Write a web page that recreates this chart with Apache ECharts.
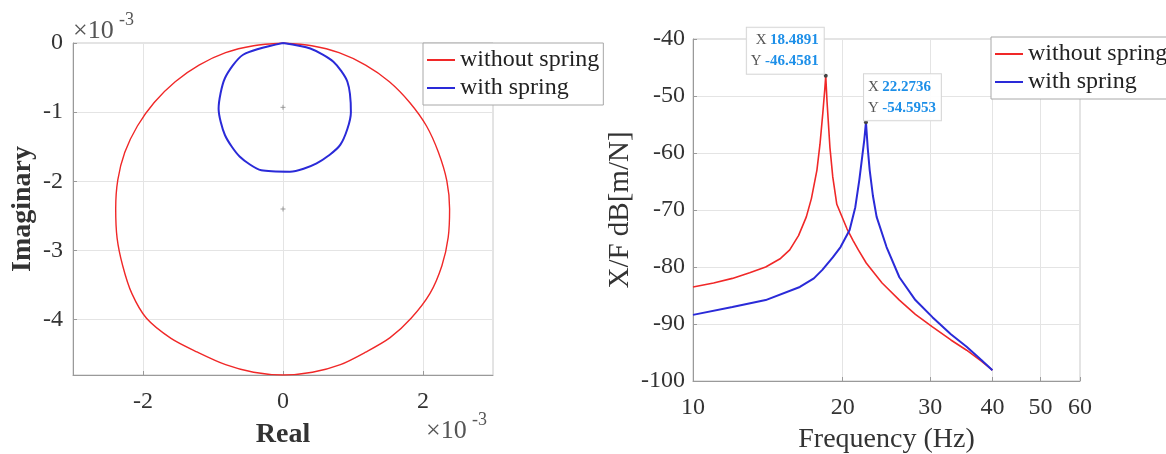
<!DOCTYPE html>
<html>
<head>
<meta charset="utf-8">
<script src="https://cdn.jsdelivr.net/npm/echarts@6/dist/echarts.min.js"></script>
<style>
  html, body { margin: 0; padding: 0; background: #fff; }
  #chart { width: 1166px; height: 454px; }
</style>
</head>
<body>
<div id="chart"></div>
<script>
const seriesNames = ['without spring', 'with spring'];

// Nyquist plot, real / imaginary in units of 1e-3
const nyqWithout = [
  [0.0, 0.0], [-0.42, -0.04], [-0.82, -0.14], [-1.2, -0.32], [-1.54, -0.56],
  [-1.84, -0.86], [-2.08, -1.2], [-2.26, -1.58], [-2.36, -1.98], [-2.39, -2.4],
  [-2.37, -2.82], [-2.29, -3.22], [-2.16, -3.62], [-1.95, -3.98], [-1.6, -4.27],
  [-1.22, -4.47], [-0.82, -4.65], [-0.42, -4.76], [0.0, -4.8], [0.42, -4.76],
  [0.82, -4.65], [1.18, -4.47], [1.53, -4.26], [1.83, -3.98], [2.1, -3.62],
  [2.27, -3.22], [2.36, -2.81], [2.38, -2.4], [2.34, -1.99], [2.22, -1.58],
  [2.05, -1.2], [1.81, -0.86], [1.52, -0.56], [1.18, -0.32], [0.8, -0.14],
  [0.41, -0.04], [0.0, 0.0]
];
const nyqWith = [
  [0.0, 0.0], [-0.57, -0.17], [-0.83, -0.51], [-0.92, -0.95], [-0.83, -1.33],
  [-0.62, -1.64], [-0.31, -1.84], [0.1, -1.86], [0.48, -1.74], [0.82, -1.47],
  [0.97, -1.0], [0.92, -0.56], [0.72, -0.27], [0.39, -0.08], [0.0, 0.0]
];
const nyqCentres = [[0, -2.4], [0, -0.93]];
const realTicks = [-2, 0, 2];
const imagTicks = [-4, -3, -2, -1, 0];

// receptance magnitude, frequency (Hz) vs dB
const frfWithout = [
  [10, -83.5], [11, -82.8], [12, -82.0], [13, -81.0], [14, -80.0], [15, -78.5],
  [15.65, -77.0], [16.3, -74.5], [16.9, -71.2], [17.3, -68.0], [17.75, -63.0],
  [18.0, -58.5], [18.24, -53.0], [18.4, -49.0], [18.4891, -46.4581], [18.6, -51.0],
  [18.85, -59.0], [19.1, -64.2], [19.46, -69.0], [20.0, -71.5], [20.4, -73.3],
  [21.0, -75.4], [21.5, -77.0], [22.3, -79.3], [24, -82.8], [26, -85.8], [28, -88.3],
  [30.3, -90.5], [33, -92.8], [35.5, -94.6], [38, -96.5], [40, -98.1]
];
const frfWith = [
  [10, -88.4], [12, -87.0], [14, -85.8], [16.4, -83.5], [17.5, -82.0],
  [18.2, -80.5], [19.1, -78.3], [19.8, -76.5], [20.65, -73.5], [21.2, -69.5],
  [21.6, -64.7], [21.9, -60.5], [22.1, -57.7], [22.2736, -54.5953], [22.45, -59.0],
  [22.66, -63.0], [23.0, -67.5], [23.4, -71.2], [24.5, -76.5], [26, -81.8],
  [28, -85.8], [30.3, -88.8], [33, -91.8], [35.5, -94.0], [38, -96.3], [40, -98.1]
];
const freqTicks = [10, 20, 30, 40, 50, 60];
const peakWithout = [18.4891, -46.4581];
const peakWith = [22.2736, -54.5953];

const RED = '#f02828';
const BLUE = '#2a2ad8';
const FONT = '"Liberation Serif", "Times New Roman", serif';
const AXIS = '#9a9a9a';
const GRID = '#e4e4e4';
const TXT = '#333';

const chart = echarts.init(document.getElementById('chart'));

const axisCommon = (ticks, margin) => ({
  axisLine: { show: true, onZero: false, lineStyle: { color: AXIS } },
  axisTick: { show: true, inside: true, length: 4, customValues: ticks, lineStyle: { color: AXIS } },
  axisLabel: { customValues: ticks, fontFamily: FONT, fontSize: 24, color: TXT, margin: margin },
  splitLine: { show: true, lineStyle: { color: GRID } }
});

const tipLabel = (p, align) => ({
  show: true,
  position: [0, 0],
  align: align,
  verticalAlign: 'bottom',
  formatter: `{k|X} {v|${p[0]}}\n{k|Y} {v|${p[1]}}`,
  backgroundColor: 'rgba(255,255,255,0.92)',
  borderColor: '#d6d6d6',
  borderWidth: 1,
  padding: [2, 5, 2, 4],
  rich: {
    k: { fontFamily: FONT, fontSize: 15, color: '#555', lineHeight: 21 },
    v: { fontFamily: FONT, fontSize: 15, color: '#1d8fe8', fontWeight: 'bold', lineHeight: 21 }
  }
});

const legendCommon = {
  orient: 'vertical',
  data: seriesNames,
  icon: 'rect',
  itemWidth: 28,
  itemHeight: 2,
  itemGap: 4,
  selectedMode: false,
  backgroundColor: '#fff',
  borderColor: '#a8a8a8',
  borderWidth: 1,
  padding: [5, 4, 5, 4],
  textStyle: { fontFamily: FONT, fontSize: 24, color: '#222', lineHeight: 24 }
};

chart.setOption({
  animation: false,
  backgroundColor: '#fff',
  grid: [
    {
      left: 73, top: 43, width: 420, height: 332, outerBoundsMode: 'none',
      show: true, borderColor: '#c8c8c8', backgroundColor: 'transparent'
    },
    {
      left: 693, top: 39, width: 387, height: 342, outerBoundsMode: 'none',
      show: true, borderColor: '#c8c8c8', backgroundColor: 'transparent'
    }
  ],
  xAxis: [
    {
      type: 'value', gridIndex: 0, min: -3, max: 3, ...axisCommon(realTicks, 15),
      name: 'Real', nameLocation: 'middle', nameGap: 46,
      nameTextStyle: { fontFamily: FONT, fontSize: 28, fontWeight: 'bold', color: TXT }
    },
    {
      type: 'log', logBase: 10, gridIndex: 1, min: 10, max: 60, ...axisCommon(freqTicks, 15),
      name: 'Frequency (Hz)', nameLocation: 'middle', nameGap: 45,
      nameTextStyle: { fontFamily: FONT, fontSize: 28, color: TXT }
    }
  ],
  yAxis: [
    {
      type: 'value', gridIndex: 0, min: -4.8, max: 0, ...axisCommon(imagTicks, 10),
      name: 'Imaginary', nameLocation: 'middle', nameGap: 36,
      nameTextStyle: { fontFamily: FONT, fontSize: 28, fontWeight: 'bold', color: TXT }
    },
    {
      type: 'value', gridIndex: 1, min: -100, max: -40, interval: 10, ...axisCommon(null, 8),
      name: 'X/F dB[m/N]', nameLocation: 'middle', nameGap: 58,
      nameTextStyle: { fontFamily: FONT, fontSize: 29, color: TXT }
    }
  ],
  legend: [
    { ...legendCommon, left: 423, top: 43 },
    { ...legendCommon, left: 991, top: 37 }
  ],
  graphic: [
    { type: 'text', left: 73, top: 18, style: { text: '×10', fontFamily: FONT, fontSize: 26, fill: '#555' } },
    { type: 'text', left: 119, top: 11, style: { text: '-3', fontFamily: FONT, fontSize: 18, fill: '#555' } },
    { type: 'text', left: 426, top: 418, style: { text: '×10', fontFamily: FONT, fontSize: 26, fill: '#555' } },
    { type: 'text', left: 472, top: 411, style: { text: '-3', fontFamily: FONT, fontSize: 18, fill: '#555' } }
  ],
  series: [
    {
      name: seriesNames[0], type: 'line', xAxisIndex: 0, yAxisIndex: 0, data: nyqWithout,
      showSymbol: false, smooth: 0.3, color: RED, lineStyle: { width: 1.4 }
    },
    {
      name: seriesNames[1], type: 'line', xAxisIndex: 0, yAxisIndex: 0, data: nyqWith,
      showSymbol: false, smooth: 0.25, color: BLUE, lineStyle: { width: 2 }
    },
    {
      name: 'centre', type: 'scatter', xAxisIndex: 0, yAxisIndex: 0, data: nyqCentres,
      symbol: 'path://M0,5L10,5M5,0L5,10', symbolSize: 5,
      itemStyle: { color: 'none', borderColor: '#888', borderWidth: 1 }
    },
    {
      name: seriesNames[0], type: 'line', xAxisIndex: 1, yAxisIndex: 1, data: frfWithout,
      showSymbol: false, color: RED, lineStyle: { width: 1.6 },
      markPoint: {
        symbol: 'circle', symbolSize: 4, itemStyle: { color: '#444' },
        data: [{ coord: peakWithout, label: tipLabel(peakWithout, 'right') }]
      }
    },
    {
      name: seriesNames[1], type: 'line', xAxisIndex: 1, yAxisIndex: 1, data: frfWith,
      showSymbol: false, color: BLUE, lineStyle: { width: 2 },
      markPoint: {
        symbol: 'circle', symbolSize: 4, itemStyle: { color: '#444' },
        data: [{ coord: peakWith, label: tipLabel(peakWith, 'left') }]
      }
    }
  ]
});
</script>
</body>
</html>
